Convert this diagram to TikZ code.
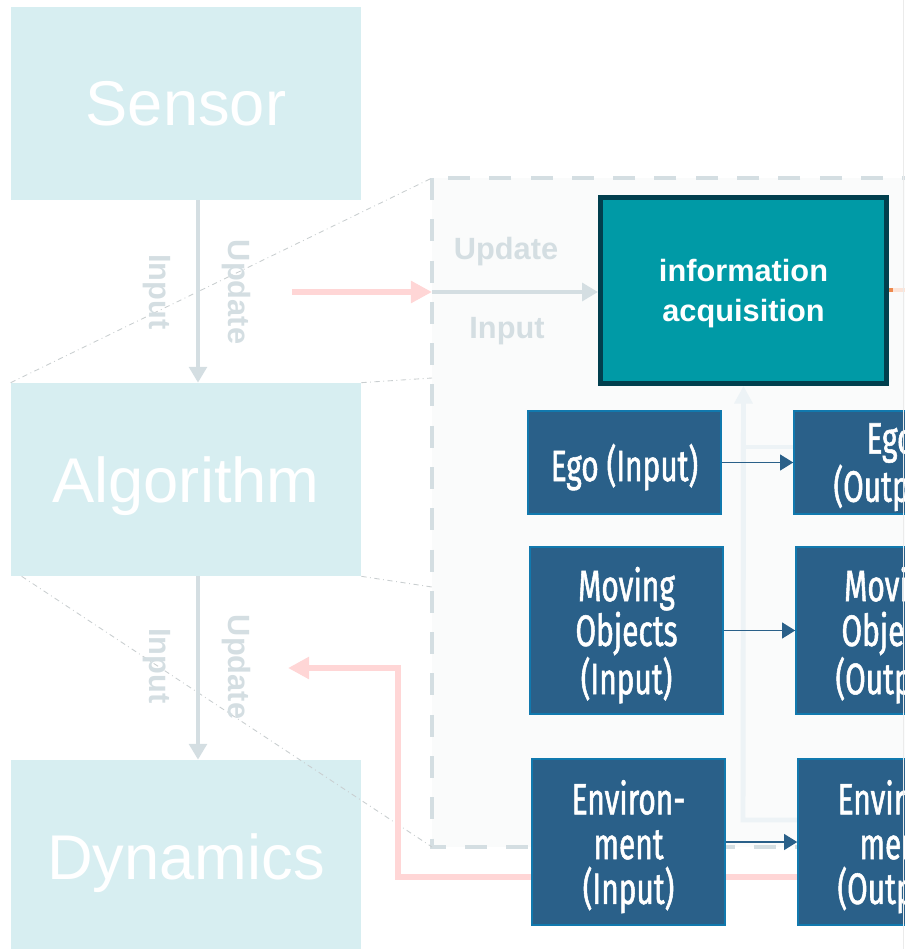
\documentclass[tikz,border=0pt]{standalone}
\usepackage{fontspec}
\setmainfont{Liberation Sans}
\newfontfamily\modfont[FakeStretch=0.68, FakeBold=1.2]{Fira Sans}
\usetikzlibrary{arrows.meta}
\definecolor{layerfill}{HTML}{D7EEF1}
\definecolor{flowgray}{HTML}{D4DEE2}
\definecolor{framefill}{HTML}{FAFBFB}
\definecolor{fbpink}{HTML}{FFD6D6}
\definecolor{infoteal}{HTML}{009AA6}
\definecolor{infoedge}{HTML}{013F4E}
\definecolor{modblue}{HTML}{2A6089}
\definecolor{modedge}{HTML}{1179AE}
\definecolor{ghost}{HTML}{EDF3F6}
\definecolor{zoomgray}{HTML}{C9CED0}
\definecolor{peach}{HTML}{FCE4D8}
\definecolor{peachtip}{HTML}{EE8A4E}
\tikzstyle{layer}=[fill=layerfill, text=white, inner sep=0pt, text depth=0pt, minimum width=7cm, minimum height=3.86cm, font=\fontsize{36}{40}\selectfont]
\tikzstyle{flow}=[draw=flowgray, line width=2.6pt, -{Triangle[length=9pt,width=10pt]}]
\tikzstyle{flowlabel}=[text=flowgray, inner sep=0pt, font=\bfseries\fontsize{17.5}{20}\selectfont]
\tikzstyle{feedback}=[draw=fbpink, line width=3.2pt, -{Triangle[length=12pt,width=12pt]}]
\tikzstyle{ghostline}=[draw=ghost, line width=2.8pt]
\tikzstyle{zoomline}=[draw=zoomgray, line width=0.5pt, dash dot]
\tikzstyle{infobox}=[fill=infoteal, draw=infoedge, line width=2.8pt, text=white, align=center, text depth=0pt, minimum width=5.72cm, minimum height=3.72cm, font=\bfseries\fontsize{17.5}{22.7}\selectfont]
\tikzstyle{module}=[fill=modblue, draw=modedge, line width=0.9pt, text=white, align=center, inner sep=0pt, text depth=0pt, minimum width=3.86cm, font=\modfont\fontsize{25}{25.5}\selectfont]
\tikzstyle{link}=[draw=modblue, line width=1.1pt, -{Triangle[length=7.5pt,width=9pt]}]

\begin{document}
\begin{tikzpicture}[x=0.02cm, y=-0.02cm]
  \useasboundingbox (0,0) rectangle (905,949);
  \coordinate (frameNW) at (432,178);
  \coordinate (frameSW) at (432,847);
  \coordinate (gate) at (432,292);
  \coordinate (fbstart) at (292,292);
  \coordinate (fbturn) at (398,668);
  \coordinate (fbout) at (288,668);
  \coordinate (ghostturn) at (743,820);
  \coordinate (ghostmid) at (743,447);
  \coordinate (ghoststart) at (798,820);
  \coordinate (peachend) at (912,290);

  \draw[draw=flowgray, line width=2.6pt, dash pattern=on 12.5pt off 11pt, fill=framefill] (frameNW) rectangle (1000,847);

  \node[layer] (sensor) at (186,103.5) {Sensor};
  \node[layer] (algo) at (186,479.5) {Algorithm};
  \node[layer] (dyn) at (186,856.5) {Dynamics};

  \draw[zoomline] (algo.north west) -- (frameNW);
  \draw[zoomline] (algo.north east) -- (432,378);
  \draw[zoomline] (algo.south east) -- (432,587);
  \draw[zoomline] ([xshift=0.22cm]algo.south west) -- (frameSW);

  \draw[flow] ([xshift=0.24cm]sensor.south) -- ([xshift=0.24cm]algo.north);
  \draw[flow] ([xshift=0.24cm]algo.south) -- ([xshift=0.24cm]dyn.north);
  \node[flowlabel, rotate=-90] (inA) at (157,292) {Input};
  \node[flowlabel, rotate=-90] (upA) at (236,292) {Update};
  \node[flowlabel, rotate=-90] (inB) at (157,666) {Input};
  \node[flowlabel, rotate=-90] (upB) at (236,667) {Update};

  \draw[feedback] (fbstart) -- (gate);
  \draw[flow] (gate) -- (598,292);
  \node[flowlabel] (upC) at (506,252) {Update};
  \node[flowlabel] (inC) at (507,331) {Input};

  \draw[peach, line width=2.8pt] (886,290) -- (peachend);
  \draw[peachtip, line width=2.8pt] (886,290) -- (893,290);
  \node[infobox] (info) at (743.5,290.5) {information\\acquisition};

  \node[module] (egoin) at (624.5,462.5) [minimum height=2.06cm] {Ego (Input)};
  \node[module] (egoout) at (890.5,462.5) [minimum height=2.06cm] {Ego\\(Output)};

  \draw[ghostline, -{Triangle[length=10pt,width=10pt]}] (ghoststart) -- (ghostturn) -- (info.south);
  \draw[ghostline] (ghostmid) -- (ghostmid -| egoout.west);
  \draw[feedback] (798,877) -| (fbturn) -- (fbout);

  \node[module] (movin) at (626.5,630.5) [minimum height=3.34cm] {Moving\\Objects\\(Input)};
  \node[module] (movout) at (892.5,630.5) [minimum height=3.34cm] {Moving\\Objects\\(Output)};
  \node[module] (envin) at (628.5,842) [minimum height=3.32cm] {Environ-\\ment\\(Input)};
  \node[module] (envout) at (894.5,842) [minimum height=3.32cm] {Environ-\\ment\\(Output)};
  \node[module] at (egoout) [minimum height=2.06cm] {Ego\\(Output)};

  \draw[link] (egoin) -- (egoout);
  \draw[link] (movin) -- (movout);
  \draw[link] (envin) -- (envout);

  \draw[black!8, line width=0.6pt] (903.5,0) -- (903.5,949);
\end{tikzpicture}
\end{document}
